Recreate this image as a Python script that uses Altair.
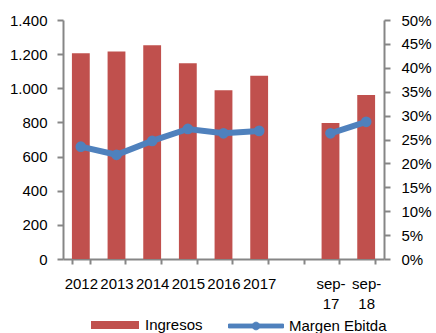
import altair as alt
import pandas as pd

categorias = ["2012", "2013", "2014", "2015", "2016", "2017", "", "sep-17", "sep-18"]
periodos = ["2012", "2013", "2014", "2015", "2016", "2017", "sep-17", "sep-18"]
ingresos = [1205, 1215, 1252, 1147, 988, 1073, 797, 961]
margen = [0.235, 0.218, 0.247, 0.272, 0.263, 0.268, 0.263, 0.287]
tramo = ["a", "a", "a", "a", "a", "a", "b", "b"]

df = pd.DataFrame({"periodo": periodos, "ingresos": ingresos, "margen": margen, "tramo": tramo})

FONT = "Liberation Sans"
ROJO = "#C0504D"
AZUL = "#4F81BD"

x = alt.X(
    "periodo:N",
    scale=alt.Scale(domain=categorias, paddingInner=0.5, paddingOuter=0.25),
    axis=alt.Axis(
        title=None, labelAngle=0, tickBand="extent", tickSize=5, labelPadding=12,
        labelExpr="substring(datum.value,0,4)=='sep-' ? ['sep-', substring(datum.value,4)] : datum.label",
        labelLineHeight=20,
    ),
)

bars = alt.Chart(df).transform_calculate(serie="'Ingresos'").mark_bar(color=ROJO).encode(
    x=x,
    y=alt.Y(
        "ingresos:Q",
        scale=alt.Scale(domain=[0, 1400]),
        axis=alt.Axis(title=None, values=list(range(0, 1401, 200)), tickSize=6, labelPadding=10,
                      labelExpr="replace(format(datum.value, ','), ',', '.')"),
    ),
    color=alt.Color(
        "serie:N",
        scale=alt.Scale(domain=["Ingresos"], range=[ROJO]),
        legend=alt.Legend(
            title=None, orient="none", legendX=28, legendY=281, padding=0,
            symbolType="M-1,-0.1667H1V0.1667H-1Z", symbolSize=2304, symbolStrokeWidth=0,
            labelFont=FONT, labelFontSize=15, labelColor="black", labelOffset=6,
        ),
    ),
)

y2 = alt.Y(
    "margen:Q",
    scale=alt.Scale(domain=[0, 0.5]),
    axis=alt.Axis(title=None, orient="right", values=[i / 100 for i in range(0, 51, 5)],
                  format=".0%", tickSize=6, labelPadding=11),
)
col2 = alt.Color(
    "serie:N",
    scale=alt.Scale(domain=["Margen Ebitda"], range=[AZUL]),
    legend=alt.Legend(
        title=None, orient="none", legendX=165, legendY=278, padding=0,
        symbolType="M-1,-0.07H1V0.07H-1Z M0.14,0 A0.14,0.14 0 1 1 -0.14,0 A0.14,0.14 0 1 1 0.14,0Z",
        symbolSize=3025, symbolStrokeWidth=1, symbolFillColor=AZUL, symbolStrokeColor=AZUL,
        labelFont=FONT, labelFontSize=15, labelColor="black", labelOffset=5,
    ),
)

linea_base = alt.Chart(df).transform_calculate(serie="'Margen Ebitda'")
linea = linea_base.mark_line(strokeWidth=6).encode(x=x, y=y2, color=col2, detail="tramo:N")
puntos = linea_base.mark_point(filled=True, size=115, opacity=1).encode(x=x, y=y2, color=col2)

chart = alt.layer(bars, alt.layer(linea, puntos)).resolve_scale(
    y="independent", color="independent"
).properties(
    width=321, height=239, autosize="none",
    padding={"left": 63, "top": 20, "right": 52, "bottom": 74},
).configure_axis(
    labelFont=FONT, labelFontSize=15, labelColor="black", grid=False,
    domainColor="#868686", tickColor="#868686", domainWidth=2, tickWidth=2,
).configure_view(stroke=None)

chart.save("out.html", embed_options={"renderer": "svg", "actions": False})
